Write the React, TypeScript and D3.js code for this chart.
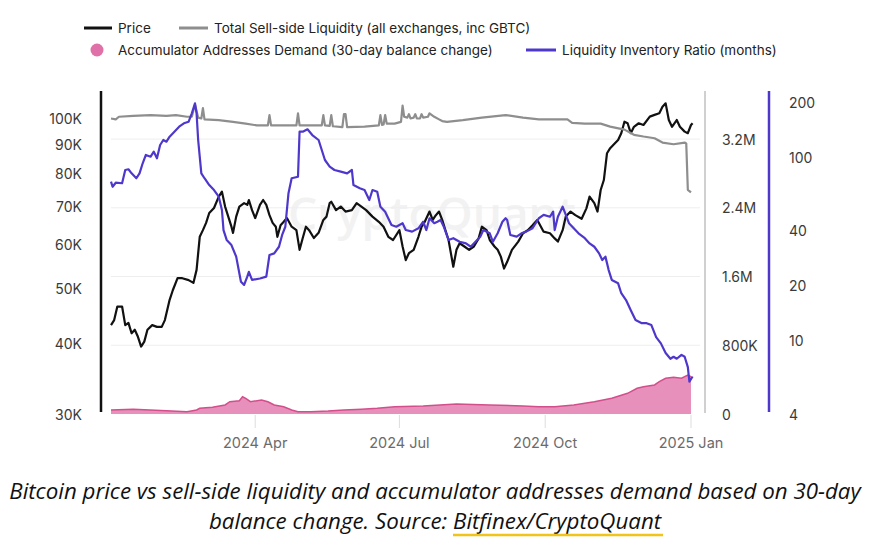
import React from "react";
import * as d3 from "d3";

// ---------- DATA ----------
// Bitcoin price (thousand USD)
const priceK: [string, number][] = [
["2024-01-01",43.1],["2024-01-03",44.0],["2024-01-05",46.5],["2024-01-08",46.5],["2024-01-10",43.1],["2024-01-12",43.5],["2024-01-14",41.7],["2024-01-16",42.3],["2024-01-18",41.1],["2024-01-20",39.5],["2024-01-22",40.3],["2024-01-24",42.3],["2024-01-27",43.1],["2024-01-30",42.8],["2024-02-02",42.8],["2024-02-04",44.0],["2024-02-07",47.8],["2024-02-09",49.7],["2024-02-12",52.2],["2024-02-15",52.2],["2024-02-19",51.8],["2024-02-22",51.2],["2024-02-24",54.0],["2024-02-26",61.8],["2024-02-28",63.5],["2024-03-01",65.4],["2024-03-03",68.1],["2024-03-06",69.5],["2024-03-09",72.8],["2024-03-11",74.3],["2024-03-13",69.9],["2024-03-15",67.1],["2024-03-17",64.4],["2024-03-18",62.8],["2024-03-20",67.1],["2024-03-22",69.9],["2024-03-25",70.9],["2024-03-27",70.4],["2024-03-28",71.8],["2024-03-30",68.9],["2024-04-01",66.7],["2024-04-04",70.4],["2024-04-06",71.8],["2024-04-08",70.4],["2024-04-10",67.5],["2024-04-12",65.4],["2024-04-14",64.4],["2024-04-15",61.8],["2024-04-17",64.8],["2024-04-19",65.7],["2024-04-21",66.7],["2024-04-24",64.4],["2024-04-27",63.5],["2024-04-29",58.6],["2024-05-01",61.5],["2024-05-03",64.4],["2024-05-05",63.5],["2024-05-08",61.5],["2024-05-11",62.8],["2024-05-14",66.2],["2024-05-16",67.1],["2024-05-18",70.9],["2024-05-19",71.3],["2024-05-22",68.9],["2024-05-25",69.9],["2024-05-28",68.5],["2024-06-01",68.9],["2024-06-04",70.9],["2024-06-07",69.9],["2024-06-10",68.9],["2024-06-14",67.1],["2024-06-18",65.7],["2024-06-21",64.4],["2024-06-24",61.8],["2024-06-27",61.0],["2024-07-01",63.5],["2024-07-03",59.4],["2024-07-05",56.2],["2024-07-07",57.8],["2024-07-10",58.6],["2024-07-13",61.8],["2024-07-15",64.4],["2024-07-17",65.7],["2024-07-20",68.5],["2024-07-22",66.2],["2024-07-24",67.5],["2024-07-26",68.5],["2024-07-28",66.2],["2024-07-30",63.5],["2024-08-01",61.0],["2024-08-04",54.7],["2024-08-06",58.6],["2024-08-08",60.2],["2024-08-11",59.4],["2024-08-14",58.6],["2024-08-17",59.4],["2024-08-20",61.4],["2024-08-22",64.4],["2024-08-25",63.5],["2024-08-27",61.0],["2024-08-30",59.4],["2024-09-01",58.6],["2024-09-03",57.0],["2024-09-05",54.3],["2024-09-07",55.8],["2024-09-10",58.6],["2024-09-14",60.6],["2024-09-17",62.7],["2024-09-20",63.5],["2024-09-23",64.8],["2024-09-26",66.2],["2024-09-30",63.1],["2024-10-04",62.7],["2024-10-07",61.4],["2024-10-09",60.6],["2024-10-12",63.5],["2024-10-14",67.1],["2024-10-17",68.5],["2024-10-20",67.5],["2024-10-24",66.5],["2024-10-27",69.4],["2024-10-29",72.8],["2024-11-01",70.9],["2024-11-03",68.5],["2024-11-05",74.8],["2024-11-07",77.9],["2024-11-09",86.9],["2024-11-11",88.7],["2024-11-14",90.5],["2024-11-16",91.7],["2024-11-18",94.3],["2024-11-20",98.8],["2024-11-22",98.2],["2024-11-24",94.3],["2024-11-26",96.8],["2024-11-29",98.2],["2024-12-02",97.5],["2024-12-06",100.9],["2024-12-09",101.6],["2024-12-12",102.3],["2024-12-14",105.0],["2024-12-16",106.5],["2024-12-18",99.5],["2024-12-20",96.8],["2024-12-23",99.5],["2024-12-25",96.8],["2024-12-28",94.9],["2024-12-30",94.3],["2025-01-01",97.5],["2025-01-02",98.2]
];

// Total sell-side liquidity (million BTC)
const sellSideM: [string, number][] = [
["2024-01-01",3.44],["2024-01-04",3.43],["2024-01-06",3.46],["2024-01-15",3.47],["2024-01-26",3.48],["2024-02-05",3.47],["2024-02-11",3.48],["2024-02-18",3.46],["2024-02-21",3.46],["2024-02-23",3.60],["2024-02-25",3.45],["2024-02-27",3.44],["2024-02-28",3.56],["2024-02-29",3.43],["2024-03-09",3.42],["2024-03-18",3.40],["2024-03-26",3.38],["2024-04-02",3.36],["2024-04-09",3.36],["2024-04-10",3.48],["2024-04-11",3.36],["2024-04-15",3.36],["2024-04-27",3.36],["2024-04-28",3.50],["2024-04-29",3.36],["2024-05-06",3.36],["2024-05-13",3.36],["2024-05-14",3.48],["2024-05-15",3.36],["2024-05-18",3.355],["2024-05-19",3.48],["2024-05-20",3.35],["2024-05-26",3.34],["2024-05-27",3.49],["2024-05-28",3.49],["2024-05-29",3.34],["2024-06-09",3.345],["2024-06-18",3.36],["2024-06-19",3.48],["2024-06-20",3.365],["2024-06-21",3.37],["2024-06-22",3.48],["2024-06-23",3.38],["2024-06-28",3.38],["2024-07-02",3.40],["2024-07-03",3.59],["2024-07-04",3.46],["2024-07-06",3.45],["2024-07-07",3.49],["2024-07-08",3.44],["2024-07-10",3.45],["2024-07-11",3.49],["2024-07-12",3.44],["2024-07-14",3.44],["2024-07-15",3.49],["2024-07-16",3.45],["2024-07-19",3.46],["2024-07-20",3.50],["2024-07-23",3.46],["2024-07-26",3.43],["2024-07-28",3.41],["2024-07-31",3.40],["2024-08-10",3.42],["2024-08-22",3.45],["2024-09-06",3.48],["2024-09-17",3.45],["2024-09-27",3.43],["2024-10-15",3.43],["2024-10-18",3.39],["2024-10-26",3.38],["2024-11-05",3.38],["2024-11-11",3.345],["2024-11-20",3.31],["2024-11-26",3.25],["2024-12-02",3.23],["2024-12-09",3.21],["2024-12-14",3.16],["2024-12-21",3.14],["2024-12-28",3.16],["2024-12-29",3.15],["2024-12-30",2.61],["2025-01-01",2.58]
];

// Accumulator addresses demand, 30-day balance change (million BTC)
const demandM: [string, number][] = [
["2024-01-01",0.047],["2024-01-15",0.055],["2024-02-05",0.038],["2024-02-18",0.027],["2024-02-24",0.047],["2024-02-26",0.066],["2024-03-05",0.078],["2024-03-13",0.105],["2024-03-16",0.143],["2024-03-22",0.155],["2024-03-24",0.201],["2024-03-26",0.183],["2024-03-29",0.143],["2024-04-05",0.163],["2024-04-09",0.143],["2024-04-13",0.105],["2024-04-19",0.085],["2024-04-24",0.047],["2024-04-28",0.027],["2024-05-06",0.027],["2024-05-17",0.035],["2024-05-27",0.047],["2024-06-07",0.055],["2024-06-17",0.066],["2024-06-28",0.085],["2024-07-16",0.093],["2024-08-06",0.116],["2024-08-27",0.105],["2024-09-17",0.093],["2024-09-27",0.085],["2024-10-07",0.085],["2024-10-19",0.105],["2024-11-01",0.143],["2024-11-12",0.183],["2024-11-22",0.241],["2024-11-28",0.299],["2024-12-02",0.318],["2024-12-09",0.338],["2024-12-12",0.376],["2024-12-16",0.416],["2024-12-21",0.427],["2024-12-26",0.416],["2024-12-30",0.454],["2025-01-01",0.434]
];

// Liquidity inventory ratio (months)
const ratioMonths: [string, number][] = [
["2024-01-01",73.8],["2024-01-02",69.2],["2024-01-04",72.8],["2024-01-08",72.3],["2024-01-10",85.4],["2024-01-12",86.2],["2024-01-14",81.9],["2024-01-17",77.0],["2024-01-19",81.9],["2024-01-21",92.9],["2024-01-23",103.1],["2024-01-26",100.9],["2024-01-28",107.4],["2024-01-30",98.9],["2024-02-01",116.8],["2024-02-03",124.4],["2024-02-05",121.8],["2024-02-07",129.7],["2024-02-10",138.0],["2024-02-13",147.0],["2024-02-16",153.4],["2024-02-19",156.5],["2024-02-21",173.9],["2024-02-23",197.1],["2024-02-24",173.9],["2024-02-25",124.4],["2024-02-27",81.9],["2024-02-29",77.0],["2024-03-03",70.7],["2024-03-06",66.4],["2024-03-09",61.1],["2024-03-11",51.7],["2024-03-12",40.2],["2024-03-14",35.5],["2024-03-17",33.3],["2024-03-20",28.8],["2024-03-23",21.0],["2024-03-25",20.2],["2024-03-27",22.4],["2024-03-28",23.8],["2024-03-30",21.5],["2024-04-04",21.9],["2024-04-08",22.4],["2024-04-10",29.4],["2024-04-13",30.0],["2024-04-16",32.6],["2024-04-18",37.8],["2024-04-20",41.9],["2024-04-22",63.8],["2024-04-24",77.0],["2024-04-28",78.5],["2024-04-29",138.0],["2024-05-01",138.0],["2024-05-04",142.3],["2024-05-07",132.4],["2024-05-11",124.4],["2024-05-15",96.8],["2024-05-18",89.0],["2024-05-21",85.4],["2024-05-25",83.6],["2024-05-29",81.9],["2024-06-01",85.4],["2024-06-02",70.7],["2024-06-06",67.9],["2024-06-09",66.4],["2024-06-12",58.6],["2024-06-14",66.4],["2024-06-17",65.0],["2024-06-19",53.9],["2024-06-22",50.6],["2024-06-26",42.8],["2024-06-29",41.9],["2024-07-03",43.8],["2024-07-05",40.2],["2024-07-09",39.4],["2024-07-13",41.1],["2024-07-16",44.6],["2024-07-18",40.2],["2024-07-20",46.6],["2024-07-23",43.8],["2024-07-25",44.6],["2024-07-27",45.6],["2024-07-29",41.9],["2024-08-01",35.5],["2024-08-04",36.3],["2024-08-08",34.7],["2024-08-12",34.0],["2024-08-15",32.6],["2024-08-18",34.7],["2024-08-21",37.0],["2024-08-23",40.2],["2024-08-27",38.6],["2024-08-29",34.7],["2024-09-01",38.6],["2024-09-04",44.6],["2024-09-06",46.6],["2024-09-07",45.6],["2024-09-09",37.8],["2024-09-13",37.0],["2024-09-16",38.6],["2024-09-19",39.4],["2024-09-23",41.1],["2024-09-27",46.6],["2024-09-30",48.6],["2024-10-04",47.5],["2024-10-06",50.6],["2024-10-07",40.2],["2024-10-09",47.5],["2024-10-12",53.9],["2024-10-14",48.6],["2024-10-16",43.8],["2024-10-19",41.1],["2024-10-22",38.6],["2024-10-26",36.3],["2024-10-29",34.0],["2024-11-01",32.6],["2024-11-04",30.0],["2024-11-06",27.6],["2024-11-08",28.8],["2024-11-10",24.4],["2024-11-12",21.5],["2024-11-16",20.6],["2024-11-18",18.2],["2024-11-21",16.7],["2024-11-24",14.7],["2024-11-27",13.0],["2024-12-01",12.5],["2024-12-04",12.5],["2024-12-07",12.2],["2024-12-10",10.5],["2024-12-13",9.7],["2024-12-16",8.6],["2024-12-19",8.0],["2024-12-21",8.2],["2024-12-23",8.0],["2024-12-26",8.4],["2024-12-28",8.2],["2024-12-30",7.2],["2024-12-31",6.0],["2025-01-02",6.4]
];

const xTickDates = ["2024-04-01", "2024-07-01", "2024-10-01", "2025-01-01"];
const xTickLabels = ["2024 Apr", "2024 Jul", "2024 Oct", "2025 Jan"];
const priceTicks = [30, 40, 50, 60, 70, 80, 90, 100];
const priceTickLabels = ["30K", "40K", "50K", "60K", "70K", "80K", "90K", "100K"];
const liqTicks = [0, 0.8, 1.6, 2.4, 3.2];
const liqTickLabels = ["0", "800K", "1.6M", "2.4M", "3.2M"];
const ratioTicks = [4, 10, 20, 40, 100, 200];
const ratioTickLabels = ["4", "10", "20", "40", "100", "200"];

const legendRow1 = ["Price", "Total Sell-side Liquidity (all exchanges, inc GBTC)"];
const legendRow2 = ["Accumulator Addresses Demand (30-day balance change)", "Liquidity Inventory Ratio (months)"];
const captionLine1 = "Bitcoin price vs sell-side liquidity and accumulator addresses demand based on 30-day";
const captionLine2a = "balance change. Source: ";
const captionLine2b = "Bitfinex/CryptoQuant";

// ---------- STYLE ----------
const C_PRICE = "#111111";
const C_LIQ = "#8e8e8e";
const C_RATIO = "#4e38cc";
const C_DEMAND_STROKE = "#d24f8c";
const C_DEMAND_FILL = "#e790bc";
const FONT = "Inter, Roboto, 'Noto Sans', sans-serif";

const parse = d3.timeParse("%Y-%m-%d");
type Pt = { d: Date; v: number };
const toPts = (arr: [string, number][]): Pt[] => arr.map(([s, v]) => ({ d: parse(s) as Date, v }));

export default function App() {
  const top = 91, bottom = 414;
  const x = d3.scaleTime().domain([parse("2024-01-01") as Date, parse("2025-01-01") as Date]).range([111, 691]);
  const yPrice = d3.scaleLog().domain([30, 112]).range([bottom, top]);
  const yLiq = d3.scaleLinear().domain([0, 3.76]).range([bottom, top]);
  const yRatio = d3.scaleLog().domain([4, 230]).range([bottom, top]);

  const price = toPts(priceK);
  const liq = toPts(sellSideM);
  const demand = toPts(demandM);
  const ratio = toPts(ratioMonths);

  const linePrice = d3.line<Pt>().x(p => x(p.d)).y(p => yPrice(p.v))(price) || "";
  const lineLiq = d3.line<Pt>().x(p => x(p.d)).y(p => yLiq(p.v))(liq) || "";
  const lineRatio = d3.line<Pt>().x(p => x(p.d)).y(p => yRatio(p.v))(ratio) || "";
  const areaDemand = d3.area<Pt>().x(p => x(p.d)).y0(yLiq(0)).y1(p => yLiq(p.v))(demand) || "";
  const lineDemand = d3.line<Pt>().x(p => x(p.d)).y(p => yLiq(p.v))(demand) || "";

  const axisLeftX = 101, axisMidX = 705, axisRightX = 769;

  return (
    <svg width={870} height={540} style={{ position: "absolute", left: 0, top: 0, background: "#fff" }} fontFamily={FONT}>
      <rect x={0} y={0} width={870} height={540} fill="#fff" />

      {/* Legend */}
      <g fontSize={13.5} fill="#222">
        <line x1={84} x2={112} y1={28} y2={28} stroke={C_PRICE} strokeWidth={3} />
        <text x={118} y={28} dominantBaseline="central">{legendRow1[0]}</text>
        <line x1={179} x2={208} y1={28} y2={28} stroke={C_LIQ} strokeWidth={3} />
        <text x={214} y={28} dominantBaseline="central">{legendRow1[1]}</text>
        <circle cx={97} cy={50} r={6.5} fill="#e070a8" />
        <text x={118} y={50} dominantBaseline="central">{legendRow2[0]}</text>
        <line x1={526} x2={556} y1={50} y2={50} stroke={C_RATIO} strokeWidth={3} />
        <text x={562} y={50} dominantBaseline="central">{legendRow2[1]}</text>
      </g>

      {/* Watermark */}
      <text x={432} y={212} textAnchor="middle" dominantBaseline="central" fontSize={46} fontWeight={600} fill="#f2f2f2" fontFamily="'Open Sans', sans-serif">CryptoQuant</text>

      {/* Gridlines */}
      {liqTicks.slice(1).map((t, i) => (
        <line key={"g" + i} x1={111} x2={700} y1={yLiq(t)} y2={yLiq(t)} stroke="#eeeeee" strokeWidth={1} />
      ))}

      {/* X ticks */}
      {xTickDates.map((s, i) => {
        const xx = x(parse(s) as Date);
        return (
          <g key={"xt" + i}>
            <line x1={xx} x2={xx} y1={415} y2={428} stroke="#dddddd" strokeWidth={1} />
            <text x={xx} y={442} textAnchor="middle" dominantBaseline="central" fontSize={14.5} fill="#6b6b6b">{xTickLabels[i]}</text>
          </g>
        );
      })}

      {/* Demand area */}
      <path d={areaDemand} fill={C_DEMAND_FILL} />
      <path d={lineDemand} fill="none" stroke={C_DEMAND_STROKE} strokeWidth={1.5} />

      {/* Lines */}
      <path d={linePrice} fill="none" stroke={C_PRICE} strokeWidth={2.2} strokeLinejoin="round" />
      <path d={lineLiq} fill="none" stroke={C_LIQ} strokeWidth={2.2} strokeLinejoin="round" />
      <path d={lineRatio} fill="none" stroke={C_RATIO} strokeWidth={2.2} strokeLinejoin="round" />

      {/* Axes lines */}
      <line x1={axisLeftX} x2={axisLeftX} y1={91} y2={412} stroke="#111" strokeWidth={2.5} />
      <line x1={axisMidX} x2={axisMidX} y1={91} y2={413} stroke="#d0d0d0" strokeWidth={2} />
      <line x1={axisRightX} x2={axisRightX} y1={91} y2={412} stroke={C_RATIO} strokeWidth={2.5} />

      {/* Left axis labels */}
      {priceTicks.map((t, i) => (
        <text key={"pl" + i} x={82} y={yPrice(t)} textAnchor="end" dominantBaseline="central" fontSize={14} fill="#3a3a3a">{priceTickLabels[i]}</text>
      ))}
      {/* Middle axis labels */}
      {liqTicks.map((t, i) => (
        <text key={"ll" + i} x={722} y={yLiq(t)} textAnchor="start" dominantBaseline="central" fontSize={14} fill="#3a3a3a">{liqTickLabels[i]}</text>
      ))}
      {/* Right axis labels */}
      {ratioTicks.map((t, i) => (
        <text key={"rl" + i} x={789} y={yRatio(t)} textAnchor="start" dominantBaseline="central" fontSize={14} fill="#3a3a3a">{ratioTickLabels[i]}</text>
      ))}

      {/* Caption */}
      <g fontFamily="'Open Sans', sans-serif" fontStyle="italic" fontSize={22.3} fill="#111">
        <text x={435} y={490} textAnchor="middle" dominantBaseline="central">{captionLine1}</text>
        <text x={435} y={520} textAnchor="middle" dominantBaseline="central">
          <tspan>{captionLine2a}</tspan>
          <tspan>{captionLine2b}</tspan>
        </text>
      </g>
      <line x1={453} x2={663} y1={535} y2={535} stroke="#f0c419" strokeWidth={2.5} />
    </svg>
  );
}
